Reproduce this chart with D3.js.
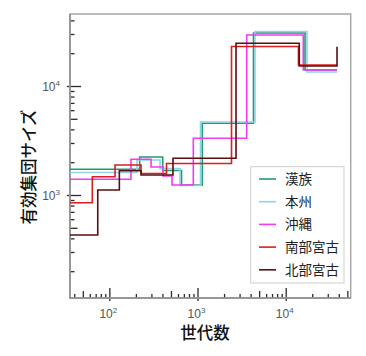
<!DOCTYPE html>
<html><head><meta charset="utf-8">
<script src="https://cdn.jsdelivr.net/npm/d3@7"></script>
<style>
html,body{margin:0;padding:0;background:#fff;}
svg{display:block;}
</style></head>
<body>
<svg id="chart" width="366" height="356"></svg>
<script>
// ---- data ----
const seriesNames = ["漢族", "本州", "沖縄", "南部宮古", "北部宮古"];
const seriesColors = ["#1e9c6c", "#8fd3ea", "#f03cf0", "#dc1e1e", "#5a0e0e"];

const gensHan     = [35.8, 221, 403, 659, 1133, 4315, 16560, 38200];
const sizesHan    = [1722, 2234, 1678, 1235, 4549, 30600, 14020, 14020];
const gensHonshu  = [35.8, 206, 376, 633, 1081, 4487, 17440, 38200];
const sizesHonshu = [1608, 2095, 1750, 1222, 4677, 31620, 13430, 13430];
const gensOkinawa = [35.8, 176, 297, 406, 514, 896, 3614, 15830, 38200];
const sizesOkinawa= [1393, 2126, 1807, 1493, 1235, 3314, 29380, 14020, 14020];
const gensSMiyako = [35.8, 64.1, 116, 229, 445, 2430, 13960, 38200];
const sizesSMiyako= [850, 1472, 1884, 1574, 1946, 23000, 15600, 15600];
const gensNMiyako = [35.8, 73.9, 129.9, 229, 527, 2733, 14260, 38200];
const sizesNMiyako= [430, 1111, 1671, 1526, 2173, 24660, 15260, 22900];

const allGens  = [gensHan, gensHonshu, gensOkinawa, gensSMiyako, gensNMiyako];
const allSizes = [sizesHan, sizesHonshu, sizesOkinawa, sizesSMiyako, sizesNMiyako];

const xMajorTicks = [100, 1000, 10000];
const xMajorExp = ["2", "3", "4"];
const yMajorTicks = [1000, 10000];
const yMajorExp = ["3", "4"];
const xLabel = "世代数";
const yLabel = "有効集団サイズ";

// ---- layout ----
const L = 70, R = 350.7, T = 14, B = 298;
const svg = d3.select("#chart");

const x = d3.scaleLog().domain([35.8, 54600]).range([L, R]);
const y = d3.scaleLog().domain([113.5, 45770]).range([B, T]);

// minor ticks
function minorTicks(scale) {
  const [a, b] = scale.domain();
  const out = [];
  for (let e = Math.floor(Math.log10(a)); e <= Math.ceil(Math.log10(b)); e++) {
    for (let m = 2; m <= 9; m++) {
      const v = m * Math.pow(10, e);
      if (v >= a && v <= b) out.push(v);
    }
  }
  return out;
}
const xMinor = minorTicks(x);
const yMinor = minorTicks(y);
const tickColor = "#2a2a2a";

function styleAxis(g) {
  g.select(".domain").remove();
  g.selectAll(".tick line").attr("stroke", tickColor).attr("stroke-width", 1.3);
  g.selectAll(".tick text").remove();
}

// x axis ticks (inward)
svg.append("g").attr("transform", `translate(0,${B})`)
  .call(d3.axisBottom(x).tickValues(xMinor.filter(v => Math.round(v / Math.pow(10, Math.floor(Math.log10(v) + 1e-9))) !== 5)).tickSize(-4).tickFormat(""))
  .call(styleAxis);
svg.append("g").attr("transform", `translate(0,${B})`)
  .call(d3.axisBottom(x).tickValues(xMinor.filter(v => Math.round(v / Math.pow(10, Math.floor(Math.log10(v) + 1e-9))) === 5)).tickSize(-7).tickFormat(""))
  .call(styleAxis);
svg.append("g").attr("transform", `translate(0,${B + 3})`)
  .call(d3.axisBottom(x).tickValues(xMajorTicks).tickSize(-13).tickFormat(""))
  .call(styleAxis);

// y axis ticks (inward)
svg.append("g").attr("transform", `translate(${L},0)`)
  .call(d3.axisLeft(y).tickValues(yMinor.filter(v => Math.round(v / Math.pow(10, Math.floor(Math.log10(v) + 1e-9))) !== 5)).tickSize(-4.5).tickFormat(""))
  .call(styleAxis);
svg.append("g").attr("transform", `translate(${L},0)`)
  .call(d3.axisLeft(y).tickValues(yMinor.filter(v => Math.round(v / Math.pow(10, Math.floor(Math.log10(v) + 1e-9))) === 5)).tickSize(-7.5).tickFormat(""))
  .call(styleAxis);
svg.append("g").attr("transform", `translate(${L - 3},0)`)
  .call(d3.axisLeft(y).tickValues(yMajorTicks).tickSize(-14).tickFormat(""))
  .call(styleAxis);

// frame (left & bottom darker gray, top & right lighter)
svg.append("rect").attr("x", L).attr("y", T).attr("width", R - L).attr("height", B - T)
  .attr("fill", "none").attr("stroke", "#a8a8a8").attr("stroke-width", 1.5);
svg.append("path").attr("d", `M${L},${T}V${B}H${R}`).attr("fill", "none")
  .attr("stroke", "#8a8a8a").attr("stroke-width", 1.5);

// tick labels
const labelFont = "'Liberation Sans', Arial, sans-serif";
xMajorTicks.forEach((v, i) => {
  const t = svg.append("text").attr("x", x(v) - 1).attr("y", 318)
    .attr("text-anchor", "middle").attr("font-family", labelFont)
    .attr("font-size", 12).attr("fill", "#555");
  t.append("tspan").text("10");
  t.append("tspan").attr("font-size", 8).attr("dy", -5).text(xMajorExp[i]);
});
yMajorTicks.forEach((v, i) => {
  const t = svg.append("text").attr("x", 60).attr("y", y(v) + 5)
    .attr("text-anchor", "end").attr("font-family", labelFont)
    .attr("font-size", 12).attr("fill", "#555");
  t.append("tspan").text("10");
  t.append("tspan").attr("font-size", 8).attr("dy", -5).text(yMajorExp[i]);
});

// axis titles
const jpFont = "'Noto Sans CJK JP', 'Noto Sans', sans-serif";
svg.append("text").attr("x", 205).attr("y", 339).attr("text-anchor", "middle")
  .attr("font-family", jpFont).attr("font-size", 16.5).attr("font-weight", 500)
  .attr("fill", "#111").text(xLabel);
svg.append("text").attr("transform", `translate(35,167) rotate(-90)`)
  .attr("text-anchor", "middle").attr("font-family", jpFont).attr("font-size", 16.5)
  .attr("font-weight", 500).attr("fill", "#111").text(yLabel);

// lines
const line = d3.line().x(d => x(d[0])).y(d => y(d[1])).curve(d3.curveStepAfter);
seriesNames.forEach((name, i) => {
  const pts = allGens[i].map((g, j) => [g, allSizes[i][j]]);
  svg.append("path").attr("d", line(pts)).attr("fill", "none")
    .attr("stroke", seriesColors[i]).attr("stroke-width", 1.6);
});

// legend
const lg = svg.append("g");
lg.append("rect").attr("x", 250.7).attr("y", 166.7).attr("width", 93.3).attr("height", 116.3)
  .attr("fill", "#fff").attr("stroke", "#cfcfcf").attr("stroke-width", 1);
seriesNames.forEach((name, i) => {
  const cy = 179 + i * 22.7;
  lg.append("line").attr("x1", 259).attr("x2", 276).attr("y1", cy).attr("y2", cy)
    .attr("stroke", seriesColors[i]).attr("stroke-width", 1.6);
  lg.append("text").attr("x", 285).attr("y", cy + 5).attr("font-family", jpFont)
    .attr("font-size", 13.5).attr("fill", "#222").text(name);
});
</script>
</body></html>
